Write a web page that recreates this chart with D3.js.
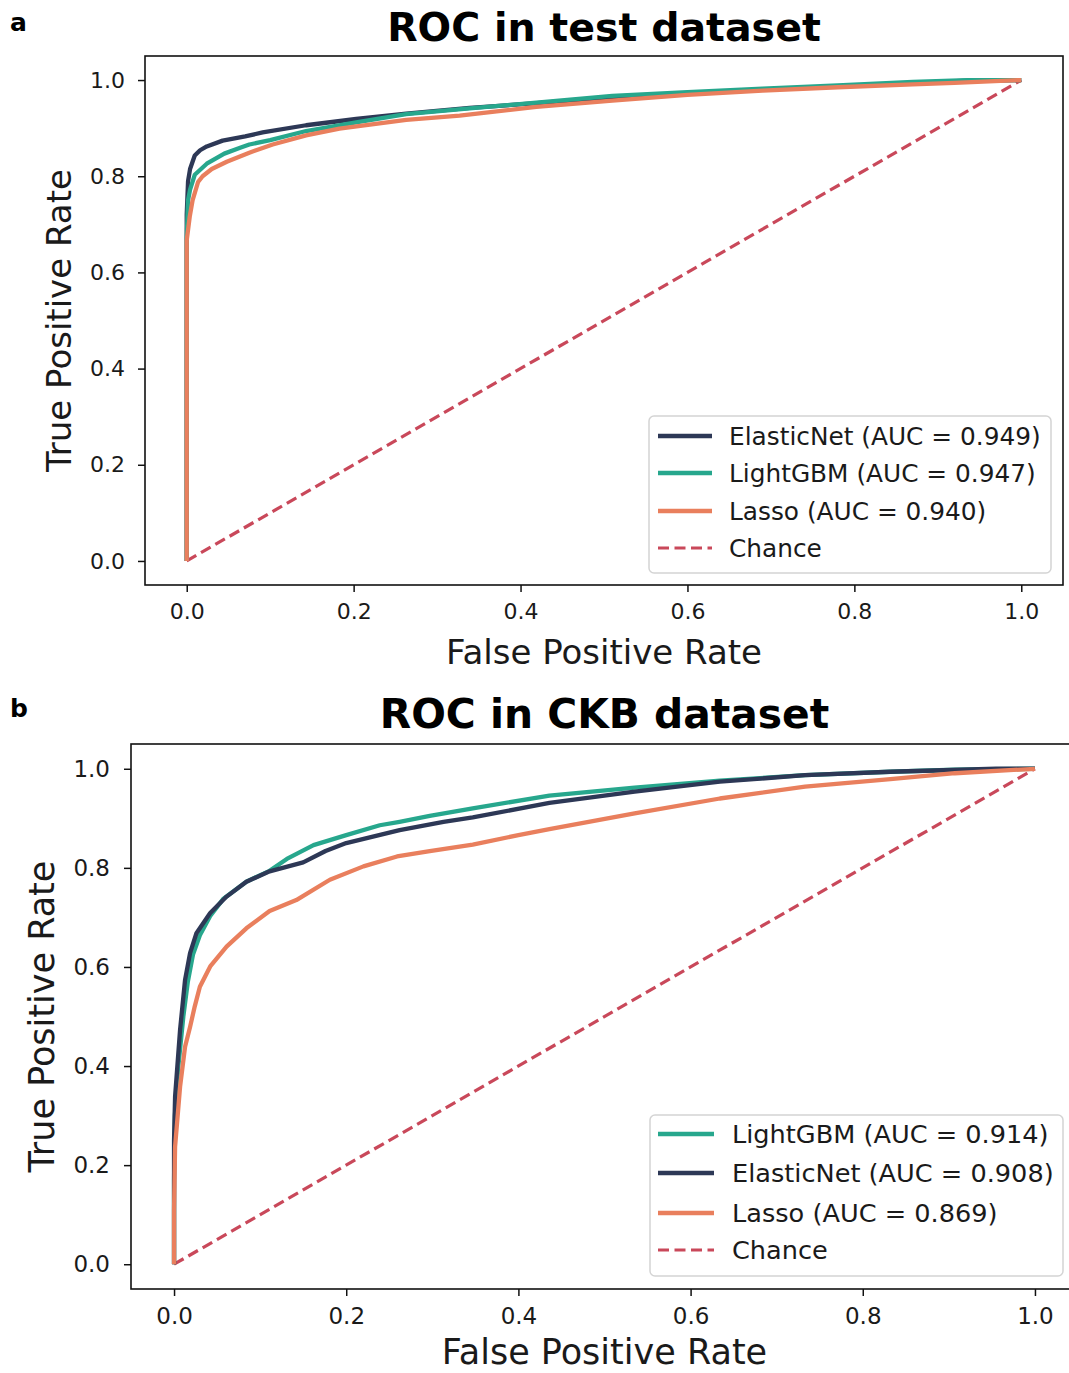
<!DOCTYPE html>
<html>
<head>
<meta charset="utf-8">
<script src="https://cdn.jsdelivr.net/npm/d3@7"></script>
<style>
  html, body { margin: 0; padding: 0; background: #fff; }
  svg { display: block; font-family: "DejaVu Sans", sans-serif; }
</style>
</head>
<body>
<svg id="fig" width="1069" height="1373"></svg>
<script>
// ---- ROC points [false positive rate, true positive rate] ----
// Panel a: held-out test dataset
const testElasticNet = [[0,0],[0,0.72],[0.0016,0.79],[0.004,0.815],[0.0096,0.843],[0.016,0.854],[0.024,0.862],[0.043,0.874],[0.07,0.883],[0.091,0.891],[0.143,0.906],[0.203,0.919],[0.263,0.930],[0.339,0.942],[0.42,0.952],[0.51,0.964],[0.60,0.973],[0.69,0.980],[0.78,0.987],[0.87,0.994],[0.93,0.998],[1,1]];
const testLightGBM   = [[0,0],[0,0.672],[0.0016,0.75],[0.004,0.772],[0.0096,0.803],[0.024,0.826],[0.045,0.847],[0.064,0.859],[0.075,0.866],[0.1,0.875],[0.143,0.894],[0.203,0.912],[0.263,0.929],[0.339,0.941],[0.419,0.953],[0.51,0.967],[0.60,0.975],[0.69,0.982],[0.78,0.989],[0.87,0.996],[0.935,1.0],[1,1]];
const testLasso      = [[0,0],[0,0.667],[0.0036,0.716],[0.007,0.75],[0.0136,0.788],[0.019,0.800],[0.03,0.815],[0.048,0.830],[0.075,0.849],[0.103,0.866],[0.143,0.885],[0.183,0.899],[0.263,0.917],[0.327,0.926],[0.419,0.944],[0.51,0.957],[0.60,0.969],[0.69,0.978],[0.78,0.985],[0.87,0.991],[0.92,0.994],[1,1]];

// Panel b: external CKB dataset
const ckbLightGBM   = [[0,0],[0,0.17],[0.001,0.30],[0.005,0.40],[0.0108,0.50],[0.016,0.570],[0.022,0.625],[0.03,0.664],[0.042,0.703],[0.057,0.737],[0.084,0.772],[0.111,0.794],[0.131,0.818],[0.162,0.846],[0.20,0.866],[0.239,0.886],[0.262,0.893],[0.297,0.905],[0.347,0.920],[0.436,0.946],[0.535,0.962],[0.634,0.976],[0.733,0.987],[0.832,0.994],[0.907,0.998],[1,1]];
const ckbElasticNet = [[0,0],[0,0.109],[0,0.25],[0.0012,0.338],[0.007,0.473],[0.0128,0.574],[0.0186,0.628],[0.026,0.668],[0.042,0.709],[0.061,0.742],[0.084,0.772],[0.111,0.793],[0.150,0.811],[0.176,0.834],[0.200,0.850],[0.262,0.876],[0.313,0.893],[0.347,0.902],[0.436,0.931],[0.535,0.954],[0.634,0.974],[0.733,0.987],[0.832,0.994],[0.955,1.0],[1,1]];
const ckbLasso      = [[0,0],[0,0.109],[0.0012,0.237],[0.007,0.358],[0.0128,0.439],[0.0186,0.479],[0.024,0.520],[0.030,0.560],[0.042,0.601],[0.061,0.641],[0.084,0.678],[0.111,0.713],[0.142,0.735],[0.181,0.776],[0.220,0.803],[0.259,0.823],[0.297,0.834],[0.347,0.847],[0.40,0.866],[0.436,0.878],[0.535,0.910],[0.634,0.940],[0.733,0.964],[0.832,0.979],[0.907,0.991],[1,1]];

const chanceLine = [[0,0],[1,1]];

// Legend entries, in drawing order
const testNames = ["ElasticNet", "LightGBM", "Lasso"];
const testAUC   = [0.949, 0.947, 0.940];
const ckbNames  = ["LightGBM", "ElasticNet", "Lasso"];
const ckbAUC    = [0.914, 0.908, 0.869];

const tickValues = [0, 0.2, 0.4, 0.6, 0.8, 1.0];

const colors = {
  ElasticNet: "#2d3856",
  LightGBM: "#27a78d",
  Lasso: "#e97f5d",
  Chance: "#c9485a"
};

const svg = d3.select("#fig");

function drawPanel(cfg) {
  const x = d3.scaleLinear().domain([-0.05, 1.05]).range([cfg.left, cfg.right]);
  const y = d3.scaleLinear().domain([-0.05, 1.05]).range([cfg.bottom, cfg.top]);
  const g = svg.append("g");

  const clipId = "clip-" + cfg.letter;
  g.append("clipPath").attr("id", clipId)
    .append("rect")
    .attr("x", cfg.left).attr("y", cfg.top)
    .attr("width", cfg.right - cfg.left).attr("height", cfg.bottom - cfg.top);

  const line = d3.line().x(d => x(d[0])).y(d => y(d[1]));
  const plot = g.append("g").attr("clip-path", `url(#${clipId})`);

  // chance diagonal
  plot.append("path").datum(chanceLine)
    .attr("d", line).attr("fill", "none")
    .attr("stroke", colors.Chance).attr("stroke-width", 3.2)
    .attr("stroke-dasharray", "11,5.5");

  cfg.series.forEach((s, i) => {
    plot.append("path").datum(s)
      .attr("d", line).attr("fill", "none")
      .attr("stroke", colors[cfg.names[i]])
      .attr("stroke-width", 4.3)
      .attr("stroke-linejoin", "round")
      .attr("stroke-linecap", "butt");
  });

  // axes
  const xAxis = d3.axisBottom(x).tickValues(tickValues).tickFormat(d3.format(".1f"))
    .tickSize(7).tickPadding(cfg.tickPad);
  const yAxis = d3.axisLeft(y).tickValues(tickValues).tickFormat(d3.format(".1f"))
    .tickSize(7).tickPadding(cfg.tickPadY);

  const gx = g.append("g").attr("transform", `translate(0,${cfg.bottom})`).call(xAxis);
  const gy = g.append("g").attr("transform", `translate(${cfg.left},0)`).call(yAxis);
  [gx, gy].forEach(a => {
    a.select(".domain").remove();
    a.selectAll(".tick line").attr("stroke", "#111").attr("stroke-width", 1.5);
    a.selectAll(".tick text").attr("fill", "#1a1a1a")
      .style("font-size", cfg.tickFont + "px")
      .style("font-family", "'DejaVu Sans', sans-serif");
  });

  // frame
  g.append("rect")
    .attr("x", cfg.left).attr("y", cfg.top)
    .attr("width", cfg.right - cfg.left).attr("height", cfg.bottom - cfg.top)
    .attr("fill", "none").attr("stroke", "#111").attr("stroke-width", 1.6);

  // titles and labels
  g.append("text").attr("x", (cfg.left + cfg.right) / 2).attr("y", cfg.titleY)
    .attr("text-anchor", "middle").attr("font-weight", "bold")
    .style("font-size", cfg.titleFont + "px").text(cfg.title);

  g.append("text").attr("x", 10).attr("y", cfg.letterY)
    .attr("font-weight", "bold").style("font-size", "25px").text(cfg.letter);

  g.append("text").attr("x", (cfg.left + cfg.right) / 2).attr("y", cfg.xLabelY)
    .attr("text-anchor", "middle").attr("fill", "#1a1a1a")
    .style("font-size", cfg.labelFont + "px").text("False Positive Rate");

  const yMid = (cfg.top + cfg.bottom) / 2;
  g.append("text")
    .attr("transform", `translate(${cfg.yLabelX},${yMid}) rotate(-90)`)
    .attr("text-anchor", "middle").attr("fill", "#1a1a1a")
    .style("font-size", cfg.labelFont + "px").text("True Positive Rate");

  // legend
  const L = cfg.legend;
  const lg = g.append("g");
  lg.append("rect")
    .attr("x", L.x).attr("y", L.y).attr("width", L.w).attr("height", L.h)
    .attr("rx", 5).attr("fill", "#fff").attr("fill-opacity", 0.85)
    .attr("stroke", "#d4d4d4").attr("stroke-width", 1.5);

  const entries = cfg.names.map((n, i) => ({
    label: `${n} (AUC = ${cfg.auc[i].toFixed(3)})`, color: colors[n], dash: null
  }));
  entries.push({ label: "Chance", color: colors.Chance, dash: "11,5.5" });

  entries.forEach((e, i) => {
    const cy = L.rows[i];
    lg.append("line")
      .attr("x1", L.lineX0).attr("x2", L.lineX1).attr("y1", cy).attr("y2", cy)
      .attr("stroke", e.color).attr("stroke-width", e.dash ? 3.2 : 4.3)
      .attr("stroke-dasharray", e.dash);
    lg.append("text").attr("x", L.textX).attr("y", cy)
      .attr("dy", "0.36em").attr("fill", "#1a1a1a")
      .style("font-size", L.font + "px").text(e.label);
  });
}

drawPanel({
  letter: "a", letterY: 31,
  title: "ROC in test dataset", titleY: 41, titleFont: 39.5,
  left: 145, right: 1063, top: 56, bottom: 585,
  tickFont: 22, tickPad: 11, tickPadY: 13, labelFont: 34,
  xLabelY: 664, yLabelX: 71,
  names: testNames, auc: testAUC,
  series: [testElasticNet, testLightGBM, testLasso],
  legend: { x: 649, y: 416, w: 402, h: 157, rows: [436, 473, 511, 548],
            lineX0: 658, lineX1: 712, textX: 729, font: 24.8 }
});

drawPanel({
  letter: "b", letterY: 717,
  title: "ROC in CKB dataset", titleY: 728, titleFont: 40.8,
  left: 131, right: 1078, top: 744, bottom: 1289,
  tickFont: 23, tickPad: 12, tickPadY: 14, labelFont: 35,
  xLabelY: 1364, yLabelX: 54,
  names: ckbNames, auc: ckbAUC,
  series: [ckbLightGBM, ckbElasticNet, ckbLasso],
  legend: { x: 650, y: 1115, w: 413, h: 161, rows: [1134, 1173, 1213, 1250],
            lineX0: 658, lineX1: 714, textX: 732, font: 25.6 }
});
</script>
</body>
</html>
